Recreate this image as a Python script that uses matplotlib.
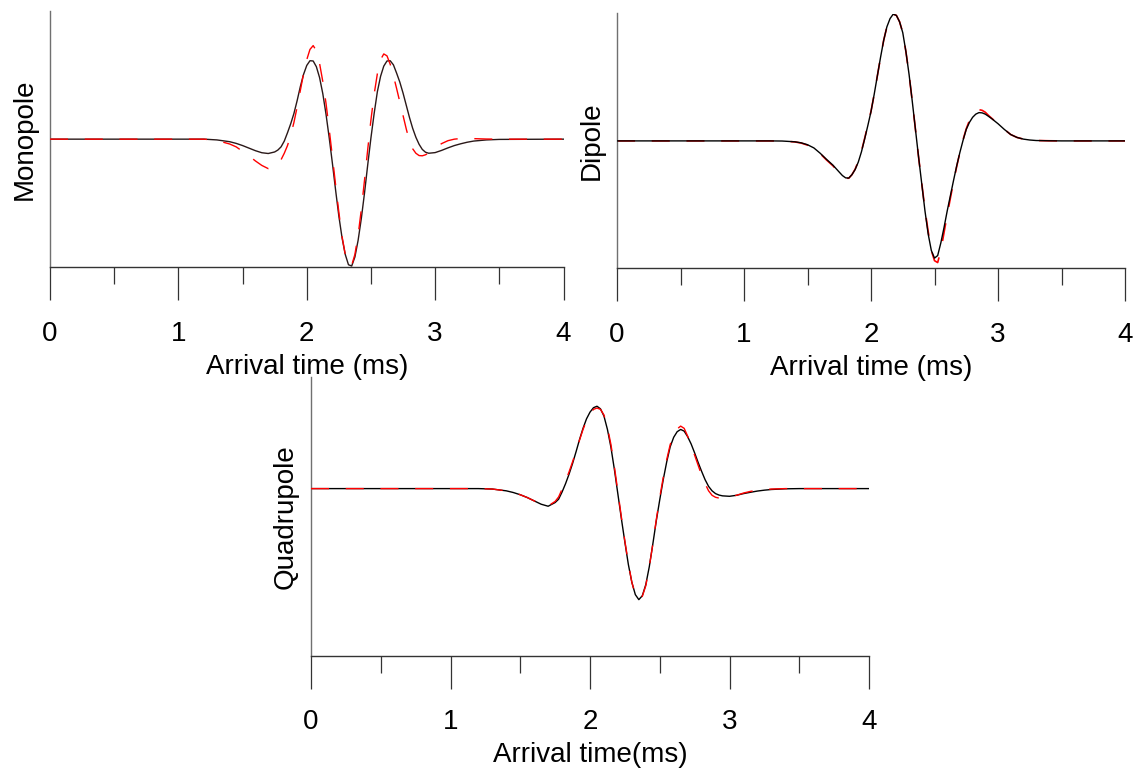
import matplotlib
matplotlib.use("Agg")
import matplotlib.pyplot as plt
from matplotlib.ticker import MultipleLocator

plt.rcParams['font.family'] = ['Liberation Sans', 'DejaVu Sans']
plt.rcParams['lines.scale_dashes'] = False

# arrival time axis (ms), shared by all three waveforms
time_ms = [0.0, 1.0, 1.2, 1.3, 1.4, 1.45, 1.5, 1.55, 1.6, 1.65, 1.7,
           1.75, 1.775, 1.8, 1.825, 1.85, 1.875, 1.9, 1.925, 1.95, 1.975,
           2.0, 2.025, 2.05, 2.075, 2.1, 2.125, 2.15, 2.175, 2.2, 2.225,
           2.25, 2.275, 2.3, 2.325, 2.35, 2.375, 2.4, 2.425, 2.45, 2.475,
           2.5, 2.525, 2.55, 2.575, 2.6, 2.625, 2.65, 2.675, 2.7, 2.725,
           2.75, 2.775, 2.8, 2.825, 2.85, 2.875, 2.9, 2.925, 2.95,
           3.0, 3.05, 3.1, 3.15, 3.2, 3.25, 3.3, 3.4, 3.5, 4.0]

# normalised amplitudes: solid = black trace, dashed = red trace
mono_solid = [0, 0, 0, -0.006, -0.02, -0.033, -0.05, -0.07, -0.09, -0.106, -0.112,
              -0.100, -0.085, -0.060, -0.015, 0.050, 0.120, 0.200, 0.300, 0.410, 0.505,
              0.575, 0.612, 0.610, 0.565, 0.480, 0.355, 0.195, 0.010, -0.190, -0.400,
              -0.600, -0.770, -0.900, -0.980, -0.990, -0.920, -0.790, -0.620, -0.420, -0.200,
              0.010, 0.200, 0.370, 0.490, 0.570, 0.610, 0.612, 0.580, 0.515, 0.445,
              0.360, 0.265, 0.170, 0.085, 0.015, -0.040, -0.080, -0.102, -0.110,
              -0.105, -0.088, -0.068, -0.05, -0.036, -0.024, -0.015, -0.006, -0.002, 0]
mono_dashed = [0, 0, 0, -0.01, -0.038, -0.06, -0.095, -0.13, -0.17, -0.205, -0.23,
               -0.220, -0.200, -0.160, -0.110, -0.050, 0.030, 0.130, 0.250, 0.380, 0.510,
               0.620, 0.700, 0.730, 0.690, 0.590, 0.450, 0.280, 0.075, -0.140, -0.360,
               -0.570, -0.760, -0.900, -0.980, -0.985, -0.900, -0.750, -0.550, -0.320, -0.080,
               0.150, 0.350, 0.510, 0.620, 0.665, 0.650, 0.585, 0.495, 0.395, 0.290,
               0.185, 0.080, -0.015, -0.075, -0.110, -0.128, -0.130, -0.122, -0.108,
               -0.07, -0.035, -0.012, 0.0, 0.005, 0.006, 0.004, 0.001, 0, 0]

dip_solid = [0, 0, 0, -0.001, -0.007, -0.015, -0.03, -0.055, -0.097, -0.145, -0.19,
             -0.245, -0.272, -0.290, -0.292, -0.265, -0.225, -0.166, -0.085, 0.015, 0.120,
             0.230, 0.365, 0.510, 0.655, 0.790, 0.895, 0.960, 0.995, 0.985, 0.935,
             0.850, 0.700, 0.520, 0.310, 0.090, -0.130, -0.340, -0.550, -0.730, -0.860,
             -0.920, -0.900, -0.800, -0.680, -0.550, -0.430, -0.310, -0.195, -0.090, 0.005,
             0.090, 0.145, 0.185, 0.210, 0.222, 0.220, 0.210, 0.193, 0.175,
             0.135, 0.09, 0.05, 0.027, 0.014, 0.007, 0.003, 0.001, 0, 0]
dip_dashed = [0, 0, 0, -0.001, -0.008, -0.017, -0.033, -0.06, -0.10, -0.15, -0.195,
              -0.250, -0.276, -0.293, -0.293, -0.265, -0.222, -0.160, -0.080, 0.020, 0.125,
              0.232, 0.365, 0.510, 0.655, 0.790, 0.895, 0.960, 0.995, 0.985, 0.935,
              0.850, 0.700, 0.520, 0.310, 0.090, -0.130, -0.335, -0.540, -0.710, -0.860,
              -0.940, -0.955, -0.860, -0.720, -0.580, -0.450, -0.320, -0.200, -0.090, 0.010,
              0.095, 0.160, 0.200, 0.230, 0.245, 0.240, 0.225, 0.200, 0.178,
              0.135, 0.09, 0.05, 0.027, 0.014, 0.007, 0.003, 0.001, 0, 0]

quad_solid = [0, 0, 0, -0.004, -0.02, -0.035, -0.055, -0.08, -0.11, -0.14, -0.158,
              -0.125, -0.095, -0.030, 0.045, 0.130, 0.225, 0.330, 0.440, 0.540, 0.625,
              0.685, 0.725, 0.738, 0.715, 0.650, 0.530, 0.370, 0.170, -0.050, -0.270,
              -0.480, -0.680, -0.840, -0.950, -0.995, -0.960, -0.860, -0.700, -0.500, -0.290,
              -0.100, 0.080, 0.240, 0.375, 0.460, 0.510, 0.530, 0.515, 0.465, 0.400,
              0.320, 0.235, 0.155, 0.080, 0.020, -0.020, -0.045, -0.058, -0.065,
              -0.069, -0.06, -0.045, -0.033, -0.022, -0.014, -0.008, -0.002, 0, 0]
quad_dashed = [0, 0, 0, -0.004, -0.02, -0.035, -0.055, -0.08, -0.11, -0.14, -0.155,
               -0.115, -0.075, -0.005, 0.070, 0.150, 0.240, 0.335, 0.435, 0.530, 0.610,
               0.670, 0.710, 0.722, 0.710, 0.660, 0.550, 0.395, 0.195, -0.030, -0.255,
               -0.470, -0.670, -0.840, -0.950, -0.995, -0.965, -0.870, -0.700, -0.500, -0.280,
               -0.080, 0.100, 0.260, 0.395, 0.480, 0.535, 0.560, 0.540, 0.470, 0.385,
               0.300, 0.210, 0.120, 0.045, -0.020, -0.060, -0.078, -0.085, -0.085,
               -0.075, -0.06, -0.04, -0.025, -0.015, -0.008, -0.004, 0, 0, 0]

W, H = 1133, 774
fig = plt.figure(figsize=(W / 100, H / 100), dpi=100)


def px_axes(left, top, right, bottom):
    ax = fig.add_axes([left / W, 1 - bottom / H, (right - left) / W, (bottom - top) / H])
    # no axes background, so labels of neighbouring panels are not covered
    ax.patch.set_visible(False)
    return ax


def style(ax, ylabel, xlabel, ylim):
    ax.set_xlim(0, 4)
    ax.set_ylim(*ylim)
    for s in ('top', 'right'):
        ax.spines[s].set_visible(False)
    ax.spines['left'].set_color('#707070')
    ax.spines['left'].set_linewidth(1.0)
    ax.spines['bottom'].set_color('#333333')
    ax.spines['bottom'].set_linewidth(1.0)
    ax.set_yticks([])
    ax.xaxis.set_major_locator(MultipleLocator(1))
    ax.xaxis.set_minor_locator(MultipleLocator(0.5))
    ax.tick_params(axis='x', which='major', direction='out', length=23.5, width=0.9,
                   color='#333333', pad=15, labelsize=20)
    ax.tick_params(axis='x', which='minor', direction='out', length=12, width=0.9,
                   color='#333333')
    ax.set_xlabel(xlabel, fontsize=20, labelpad=5)
    ax.set_ylabel(ylabel, fontsize=20, labelpad=9)


ax1 = px_axes(50, 11, 563.5, 267.3)
ax1.plot(time_ms, mono_solid, color='#2a1818', lw=1.0, zorder=2)
ax1.plot(time_ms, mono_dashed, color='red', lw=1.0, dashes=[13, 12], zorder=3)
style(ax1, 'Monopole', 'Arrival time (ms)', (-1, 1))

ax2 = px_axes(617, 13.5, 1125, 268.3)
ax2.plot(time_ms, dip_dashed, color='red', lw=1.2, dashes=[13, 12], zorder=2)
ax2.plot(time_ms, dip_solid, color='black', lw=1.0, zorder=3)
style(ax2, 'Dipole', 'Arrival time (ms)', (-1, 1))

ax3 = px_axes(311, 377, 869, 656)
ax3.plot(time_ms, quad_solid, color='black', lw=1.0, zorder=2)
ax3.plot(time_ms, quad_dashed, color='red', lw=1.0, dashes=[13, 12], zorder=3)
style(ax3, 'Quadrupole', 'Arrival time(ms)', (-1.5, 1.0))

fig.savefig('out.png', dpi=100, facecolor='white')
